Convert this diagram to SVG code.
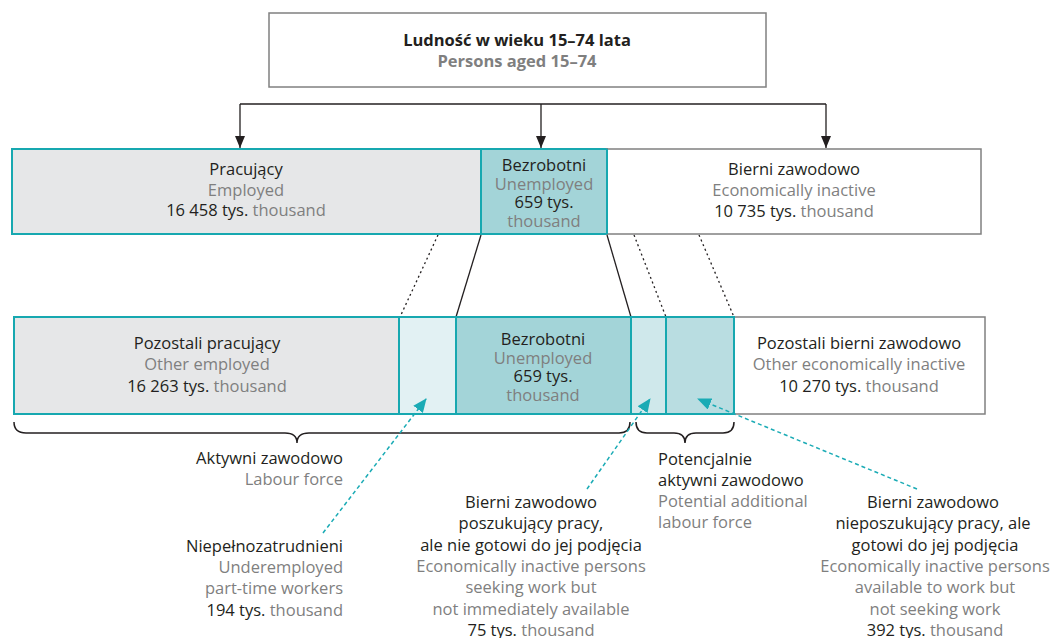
<svg xmlns="http://www.w3.org/2000/svg" width="1055" height="638" viewBox="0 0 1055 638">
<defs>
<style>
text{font-family:"Open Sans","Liberation Sans",Arial,sans-serif;font-size:16.5px;fill:#231f20;text-anchor:middle}
.g{fill:#7f7f7f}
.b{font-weight:bold}
.r{text-anchor:end}
.l{text-anchor:start}
.tb{stroke:#17a8b0;stroke-width:2}
.wb{fill:#fff;stroke:#808080;stroke-width:1.5}
.sol{stroke:#231f20;stroke-width:1.3;fill:none}
.dot{stroke:#231f20;stroke-width:1.3;fill:none;stroke-dasharray:2 3}
.tda{stroke:#1aabb5;stroke-width:1.5;fill:none;stroke-dasharray:4 3;marker-end:url(#ta)}
.br{stroke:#231f20;stroke-width:1.5;fill:none}
</style>
<marker id="ba" viewBox="0 0 12 10" refX="12" refY="5" markerWidth="12" markerHeight="10" markerUnits="userSpaceOnUse" orient="auto">
<path d="M0,0 L12,5 L0,10 Z" fill="#231f20"/>
</marker>
<marker id="ta" viewBox="0 0 14 12" refX="13" refY="6" markerWidth="14" markerHeight="12" markerUnits="userSpaceOnUse" orient="auto">
<path d="M0,0 L14,6 L0,12 Z" fill="#1aabb5"/>
</marker>
</defs>
<rect width="1055" height="638" fill="#fff"/>

<g id="connectors">
<path class="sol" d="M240,104 H826"/>
<path class="sol" d="M240,104 V148" marker-end="url(#ba)"/>
<path class="sol" d="M541,104 V148" marker-end="url(#ba)"/>
<path class="sol" d="M826,104 V148" marker-end="url(#ba)"/>
<path class="dot" d="M438,235 L400,317"/>
<path class="sol" d="M481,235 L456,317"/>
<path class="sol" d="M607,235 L631,317"/>
<path class="dot" d="M634,235 L666,317"/>
<path class="dot" d="M699,235 L734,317"/>
</g>

<g id="top">
<rect class="wb" x="269" y="13" width="497" height="74"/>
<text class="b" x="517" y="46">Ludność w wieku 15–74 lata</text>
<text class="b g" x="517" y="67">Persons aged 15–74</text>
</g>

<g id="pracujacy">
<rect class="tb" x="12" y="149" width="469" height="85" fill="#e6e7e8"/>
<text x="246" y="175">Pracujący</text>
<text class="g" x="246" y="196">Employed</text>
<text x="246" y="216">16 458 tys. <tspan class="g">thousand</tspan></text>
</g>

<g id="bezrobotni-top">
<rect class="tb" x="481" y="149" width="126" height="85" fill="#a3d4d8"/>
<text x="544" y="171">Bezrobotni</text>
<text class="g" x="544" y="190">Unemployed</text>
<text x="544" y="208">659 tys.</text>
<text class="g" x="544" y="227">thousand</text>
</g>

<g id="bierni-top">
<rect class="wb" x="607" y="149" width="374" height="85"/>
<rect x="606" y="149" width="2" height="85" fill="#17a8b0"/>
<text x="794" y="175">Bierni zawodowo</text>
<text class="g" x="794" y="196">Economically inactive</text>
<text x="794" y="217">10 735 tys. <tspan class="g">thousand</tspan></text>
</g>

<g id="pozostali-bierni">
<rect class="wb" x="734" y="317" width="251" height="97"/>
<text x="859" y="349">Pozostali bierni zawodowo</text>
<text class="g" x="859" y="370">Other economically inactive</text>
<text x="859" y="392">10 270 tys. <tspan class="g">thousand</tspan></text>
</g>

<g id="pozostali-pracujacy">
<rect class="tb" x="14" y="317" width="385" height="97" fill="#e6e7e8"/>
<text x="207" y="349">Pozostali pracujący</text>
<text class="g" x="207" y="370">Other employed</text>
<text x="207" y="392">16 263 tys. <tspan class="g">thousand</tspan></text>
</g>

<g id="niepelno-seg">
<rect class="tb" x="399" y="317" width="57" height="97" fill="#e2f1f3"/>
</g>

<g id="bezrobotni-bottom">
<rect class="tb" x="456" y="317" width="175" height="97" fill="#a3d4d8"/>
<text x="543" y="345">Bezrobotni</text>
<text class="g" x="543" y="364">Unemployed</text>
<text x="543" y="382">659 tys.</text>
<text class="g" x="543" y="401">thousand</text>
</g>

<g id="poszuk-seg">
<rect class="tb" x="631" y="317" width="35" height="97" fill="#cfe8eb"/>
</g>

<g id="nieposzuk-seg">
<rect class="tb" x="666" y="317" width="68" height="97" fill="#b9dde1"/>
</g>

<g id="braces">
<path class="br" d="M14,422 Q14,433 26,433 H285 Q297,433 297,443 Q297,433 309,433 H619 Q630,433 630,422"/>
<path class="br" d="M636,422 Q636,433 647,433 H674 Q685,433 685,443 Q685,433 696,433 H723 Q734,433 734,422"/>
</g>

<g id="teal-arrows">
<path class="tda" d="M323,533 L426,399"/>
<path class="tda" d="M587,489 L650,399"/>
<path class="tda" d="M917,489 L698,399"/>
</g>

<g id="aktywni">
<text class="r" x="343" y="464">Aktywni zawodowo</text>
<text class="r g" x="343" y="485">Labour force</text>
</g>

<g id="potencjalnie">
<text class="l" x="658" y="465">Potencjalnie</text>
<text class="l" x="658" y="486">aktywni zawodowo</text>
<text class="l g" x="658" y="507">Potential additional</text>
<text class="l g" x="658" y="528">labour force</text>
</g>

<g id="niepelnozatrudnieni">
<text class="r" x="343" y="552">Niepełnozatrudnieni</text>
<text class="r g" x="343" y="573">Underemployed</text>
<text class="r g" x="343" y="594">part-time workers</text>
<text class="r" x="343" y="616">194 tys. <tspan class="g">thousand</tspan></text>
</g>

<g id="bierni-poszukujacy">
<text x="531" y="508">Bierni zawodowo</text>
<text x="531" y="529">poszukujący pracy,</text>
<text x="531" y="551">ale nie gotowi do jej podjęcia</text>
<text class="g" x="531" y="572">Economically inactive persons</text>
<text class="g" x="531" y="593">seeking work but</text>
<text class="g" x="531" y="615">not immediately available</text>
<text x="531" y="636">75 tys. <tspan class="g">thousand</tspan></text>
</g>

<g id="bierni-nieposzukujacy">
<text x="933" y="508">Bierni zawodowo</text>
<text x="933" y="529">nieposzukujący pracy, ale</text>
<text x="935" y="551">gotowi do jej podjęcia</text>
<text class="g" x="935" y="572">Economically inactive persons</text>
<text class="g" x="935" y="593">available to work but</text>
<text class="g" x="935" y="615">not seeking work</text>
<text x="935" y="636">392 tys. <tspan class="g">thousand</tspan></text>
</g>
</svg>
